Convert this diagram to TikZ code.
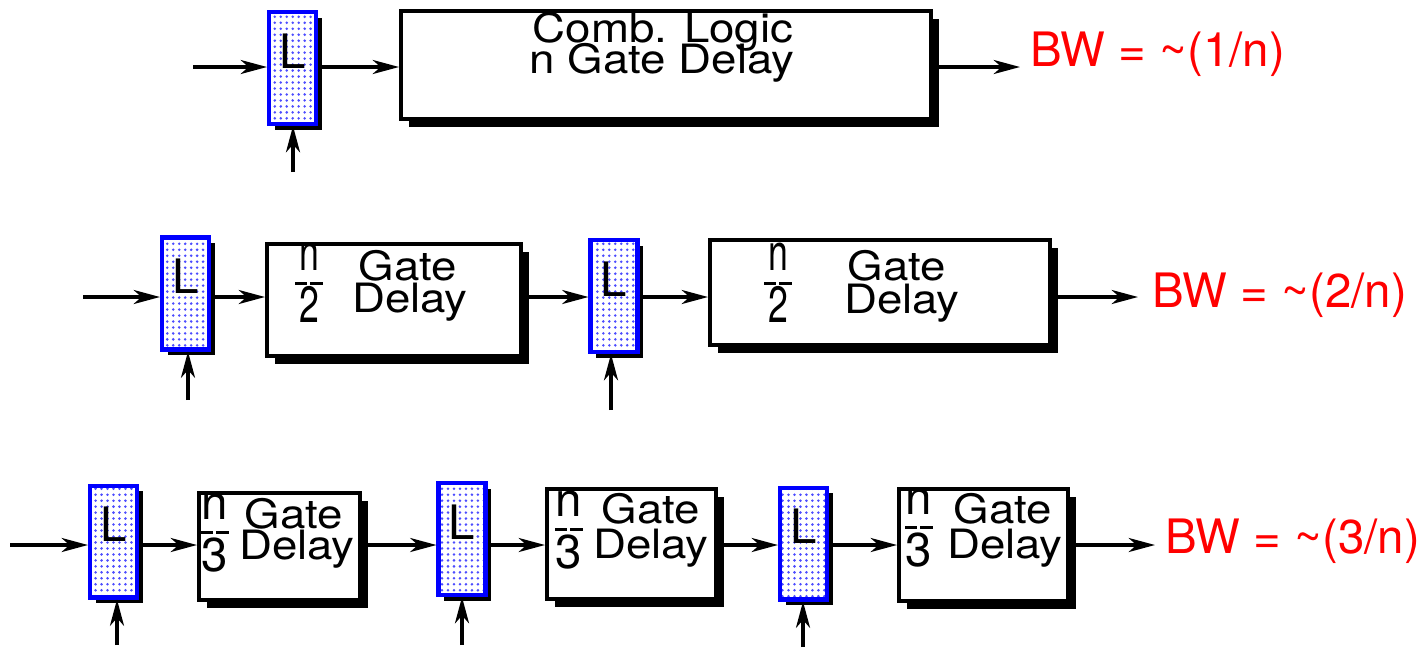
\documentclass[tikz,border=0pt]{standalone}
\usepackage{fontspec}
\setmainfont{TeX Gyre Heros}
\newfontfamily\boxfont{TeX Gyre Heros}[FakeStretch=1.13]
\newfontfamily\narrowfont{TeX Gyre Heros}[FakeStretch=0.7]
\usetikzlibrary{arrows.meta,patterns.meta,shadows}

\begin{document}
\begin{tikzpicture}[x=0.02cm, y=-0.02cm,
        sig/.style={line width=1.9pt, -{Stealth[length=15pt, width=8pt, inset=4.5pt]}},
        latch/.style={draw=blue, line width=2.3pt, minimum width=0.94cm, minimum height=2.24cm, inner sep=0pt,
            drop shadow={shadow xshift=3.4pt, shadow yshift=-3.4pt, fill=black, opacity=1},
            preaction={fill=white}, pattern={Dots[radius=0.8pt, distance=3.4pt]}, pattern color=blue!70,
            font=\fontsize{27}{27}\selectfont, text height=0.66cm, text depth=0.66cm},
        stage/.style={draw, line width=2.3pt, fill=white, inner sep=0pt,
            drop shadow={shadow xshift=4.5pt, shadow yshift=-4.5pt, fill=black, opacity=1}},
        stagetext/.style={font=\boxfont\fontsize{23}{26}\selectfont, anchor=base, inner sep=0pt},
        fracnarrow/.style={font=\narrowfont\fontsize{29}{29}\selectfont, anchor=base, inner sep=0pt},
        fracwide/.style={font=\fontsize{27}{27}\selectfont, anchor=base, inner sep=0pt},
        bw/.style={text=red, font=\fontsize{27}{27}\selectfont, anchor=base west, inner sep=0pt}]
    \useasboundingbox (0,0) rectangle (1426,650);

    \node[latch] (L1) at (292.5,68) {L};
    \node[stage, minimum width=10.6cm, minimum height=2.16cm] (B1) at (666,65) {};
    \node[stagetext] (B1-top) at (663,42) {Comb. Logic};
    \node[stagetext] (B1-bottom) at (662,73) {n Gate Delay};
    \node[bw] (bw1) at (1030,66) {BW = \textasciitilde(1/n)};

    \node[latch] (L2a) at (185.5,293.5) {L};
    \node[stage, minimum width=5.08cm, minimum height=2.24cm] (B2a) at (394,300) {};
    \node[latch] (L2b) at (614,296) {L};
    \node[stage, minimum width=6.8cm, minimum height=2.1cm] (B2b) at (880,292.5) {};
    \node[bw] (bw2) at (1152,307) {BW = \textasciitilde(2/n)};

    \node[latch] (L3a) at (113.5,541.5) {L};
    \node[stage, minimum width=3.22cm, minimum height=2.14cm] (B3a) at (279.5,546.5) {};
    \node[latch] (L3b) at (462,539) {L};
    \node[stage, minimum width=3.38cm, minimum height=2.2cm] (B3b) at (631.5,544) {};
    \node[latch] (L3c) at (803.5,543.5) {L};
    \node[stage, minimum width=3.38cm, minimum height=2.24cm] (B3c) at (983.5,545) {};
    \node[bw] (bw3) at (1165,553) {BW = \textasciitilde(3/n)};

    \foreach \b/\gx/\gy/\dx/\dy in {B2a/408/280/410/312, B2b/897/280/902/313,
            B3a/294/528/297/559, B3b/651/523/651/558, B3c/1003/523/1005/558} {
        \node[stagetext] (\b-gate) at (\gx,\gy) {Gate};
        \node[stagetext] (\b-delay) at (\dx,\dy) {Delay};
    }
    \foreach \f/\fx/\fy/\d/\fs in {B2a/309/283/2/fracnarrow, B2b/778/283/2/fracnarrow,
            B3a/215/532/3/fracwide, B3b/569/529/3/fracwide, B3c/919/527/3/fracwide} {
        \node[\fs] (\f-num) at (\fx,\fy-13) {n};
        \node[\fs] (\f-den) at (\fx,\fy+39) {\d};
        \draw[line width=1.7pt, dash pattern=on 7.1pt off 1.7pt] (\fx-14,\fy) -- (\fx+14,\fy);
    }

    \coordinate (in1) at (193,67);
    \coordinate (out1) at (1020,67);
    \coordinate (in2) at (83,297);
    \coordinate (out2) at (1138,297);
    \coordinate (in3) at (10,545);
    \coordinate (out3) at (1155,545);
    \foreach \a/\b/\r in {in1/L1/in1, L1/B1/in1, B1/out1/in1,
            in2/L2a/in2, L2a/B2a/in2, B2a/L2b/in2, L2b/B2b/in2, B2b/out2/in2,
            in3/L3a/in3, L3a/B3a/in3, B3a/L3b/in3, L3b/B3b/in3, B3b/L3c/in3, L3c/B3c/in3, B3c/out3/in3}
        \draw[sig] (\a.east |- \r) -- (\b.west |- \r);

    \foreach \l/\cx/\cy in {L1/293/172, L2a/188/400, L2b/611/410, L3a/117/645, L3b/462/645, L3c/803/647} {
        \coordinate (\l-clk) at (\cx,\cy);
        \draw[sig] (\l-clk) -- (\l-clk |- \l.south);
    }
\end{tikzpicture}
\end{document}
